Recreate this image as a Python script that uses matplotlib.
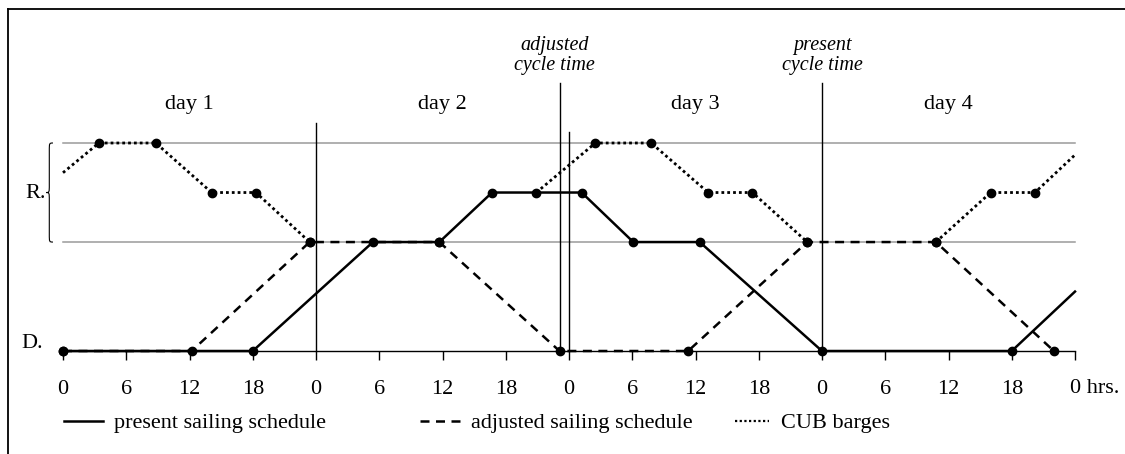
import numpy as np
import matplotlib
matplotlib.use('Agg')
import matplotlib.pyplot as plt
from matplotlib.path import Path
from matplotlib.patches import PathPatch
from matplotlib.lines import Line2D

plt.rcParams['font.family'] = ['Liberation Serif', 'DejaVu Serif']

# levels (distance units): D = departure port, R = receiving berths
LEVEL_D = 0
LEVEL_R = [11, 16, 21]

# time in hours since start of day 1
present_t = [0, 18, 29.4, 35.7, 40.7, 49.2, 54.1, 60.4, 72, 90, 96]
present_y = [0, 0, 11, 11, 16, 16, 11, 11, 0, 0, 6]

adjusted_t = [0, 12.2, 23.4, 35.7, 47.1, 59.3, 70.6, 82.8, 94]
adjusted_y = [0, 0, 11, 11, 0, 0, 11, 11, 0]

# CUB barges, gaps where they run hidden under the schedules
cub_t = [0, 3.4, 8.8, 14.1, 18.3, 23.4, np.nan, 44.9, 50.5, 55.8, 61.2, 65.4, 70.6,
         np.nan, 82.8, 88.0, 92.2, 96]
cub_y = [18, 21, 21, 16, 16, 11, np.nan, 16, 21, 21, 16, 16, 11,
         np.nan, 11, 16, 16, 19.8]

tick_hours = list(range(0, 97, 6))
tick_labels = ['0', '6', '12', '18', '0', '6', '12', '18', '0', '6', '12', '18',
               '0', '6', '12', '18', '0 hrs.']
day_labels = ['day 1', 'day 2', 'day 3', 'day 4']
day_centers = [12, 36, 60, 84]
adjusted_cycle = 47.1
present_cycle = 72

SOLID = '-'
DASHED = (0, (3.6, 2.6))
DOTTED = (0, (1, 1.1))

fig = plt.figure(figsize=(11.25, 4.54), dpi=100)
W, H = 1125, 454
ax = fig.add_axes([63 / W, 103 / H, 1012 / W, 208 / H])
ax.set_xlim(0, 96)
ax.set_ylim(0, 21)
for s in ['top', 'right', 'left']:
    ax.spines[s].set_visible(False)
ax.spines['bottom'].set_linewidth(1.0)
ax.set_yticks([])

ax.set_xticks(tick_hours)
ax.set_xticklabels(tick_labels[:-1] + [''], fontsize=16)
ax.tick_params(axis='x', direction='out', length=6.5, width=1, pad=14.5)
ax.text(96 - 0.45, -0.178, tick_labels[-1], fontsize=16, ha='left', va='center',
        transform=ax.get_xaxis_transform(), clip_on=False)

# gray reference lines for R band
for lv in [LEVEL_R[0], LEVEL_R[2]]:
    ax.axhline(lv, color='#9a9a9a', lw=1.1, zorder=1, clip_on=False)

# day dividers and cycle time markers
ax.plot([24, 24], [0, 23.0], color='black', lw=1, clip_on=False)
ax.plot([48, 48], [0, 22.1], color='black', lw=1, clip_on=False)
ax.plot([adjusted_cycle, adjusted_cycle], [0, 27.06], color='black', lw=1, clip_on=False)
ax.plot([present_cycle, present_cycle], [0, 27.06], color='black', lw=1, clip_on=False)

for x, lab in zip(day_centers, day_labels):
    ax.text(x, 24.85, lab, fontsize=16, ha='center', va='center', clip_on=False)
ax.text(adjusted_cycle - 0.5, 29.8, 'adjusted\ncycle time', fontsize=14.5, style='italic',
        ha='center', va='center', linespacing=1.05, clip_on=False)
ax.text(present_cycle, 29.8, 'present\ncycle time', fontsize=14.5, style='italic',
        ha='center', va='center', linespacing=1.05, clip_on=False)

# data lines
ax.plot(cub_t, cub_y, color='black', lw=2.0, linestyle=DOTTED,
        marker='o', ms=6, markevery=list(range(1, len(cub_t) - 1)),
        zorder=3, clip_on=False)
ax.plot(adjusted_t, adjusted_y, color='black', lw=1.8, linestyle=DASHED,
        marker='o', ms=6, zorder=4, clip_on=False)
ax.plot(present_t, present_y, color='black', lw=1.8, linestyle=SOLID, marker='o', ms=6,
        markevery=list(range(len(present_t) - 1)), zorder=5, clip_on=False)

# D. and R. labels with brace
ax.text(-1.9, 0.8, 'D.', fontsize=16, ha='right', va='center', clip_on=False)
ax.text(-1.65, 15.95, 'R.', fontsize=16, ha='right', va='center', clip_on=False)
xr, xm, xt = -0.95, -1.3, -1.6
verts = [(xr, 21), (xm, 21), (xm, 21), (xm, 20.2),
         (xm, 16.8),
         (xm, 16), (xm, 16), (xt, 16),
         (xm, 16), (xm, 16), (xm, 15.2),
         (xm, 11.8),
         (xm, 11), (xm, 11), (xr, 11)]
codes = [Path.MOVETO, Path.CURVE4, Path.CURVE4, Path.CURVE4,
         Path.LINETO,
         Path.CURVE4, Path.CURVE4, Path.CURVE4,
         Path.CURVE4, Path.CURVE4, Path.CURVE4,
         Path.LINETO,
         Path.CURVE4, Path.CURVE4, Path.CURVE4]
ax.add_patch(PathPatch(Path(verts, codes), facecolor='none', edgecolor='black',
                       lw=0.8, clip_on=False))

# legend entries
legend_items = [(SOLID, 1.8, 'present sailing schedule', 64, 1.75),
                (DASHED, 1.8, 'adjusted sailing schedule', 420, 1.8),
                (DOTTED, 1.6, 'CUB barges', 735, 1.55)]
for ls, lw, lab, px, hl in legend_items:
    h = Line2D([], [], color='black', lw=lw, linestyle=ls)
    fig.legend([h], [lab], loc='center left', bbox_to_anchor=(px / W, 31 / H),
               frameon=False, fontsize=16, borderpad=0, borderaxespad=0,
               handlelength=hl, handletextpad=0.5)

# figure frame (top and left edges)
fig.add_artist(Line2D([8 / W, 8 / W], [0, 1 - 9 / H], color='black', lw=1.3,
                      transform=fig.transFigure))
fig.add_artist(Line2D([8 / W, 1], [1 - 9 / H, 1 - 9 / H], color='black', lw=1.3,
                      transform=fig.transFigure))

fig.savefig('out.png', dpi=100, facecolor='white')
